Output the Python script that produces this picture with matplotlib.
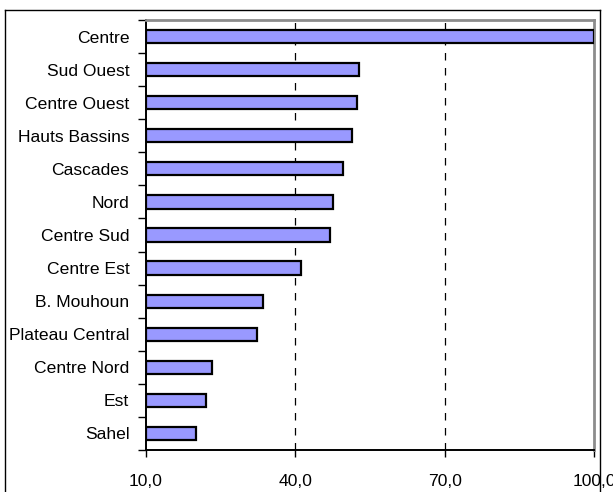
import matplotlib
matplotlib.use("Agg")
import matplotlib.pyplot as plt
from matplotlib.lines import Line2D
import numpy as np

regions = ["Centre", "Sud Ouest", "Centre Ouest", "Hauts Bassins", "Cascades",
           "Nord", "Centre Sud", "Centre Est", "B. Mouhoun", "Plateau Central",
           "Centre Nord", "Est", "Sahel"]
values = [100.0, 52.7, 52.3, 51.3, 49.5, 47.5, 46.9, 41.2, 33.6, 32.2, 23.2, 22.0, 20.0]
x_ticks = [10, 40, 70, 100]
x_tick_labels = ["10,0", "40,0", "70,0", "100,0"]
x_min, x_max = 10, 100

plt.rcParams["font.family"] = ["Liberation Sans", "DejaVu Sans"]

W, H = 613, 492
fig = plt.figure(figsize=(W / 100, H / 100), dpi=100)
ax = fig.add_axes([146 / W, (H - 450) / H, 448 / W, 430 / H])

y = np.arange(len(regions))
ax.barh(y, np.array(values) - x_min, left=x_min, height=0.4,
        color="#9999FF", edgecolor="black", linewidth=1.6, zorder=3)

ax.set_xlim(x_min, x_max)
ax.set_ylim(len(regions) - 0.5, -0.5)

# dashed vertical gridlines
for gx in x_ticks[1:-1]:
    ax.axvline(gx, color="black", linewidth=0.9, linestyle=(0, (6, 6)), zorder=1)

ax.set_xticks(x_ticks)
ax.set_xticklabels(x_tick_labels, fontsize=12.6)
ax.tick_params(axis="x", direction="out", length=5, width=1, pad=12)

ax.set_yticks(y)
ax.set_yticklabels(regions, fontsize=12.6)
ax.tick_params(axis="y", which="major", length=0, pad=12)
ax.set_yticks(np.arange(len(regions) + 1) - 0.5, minor=True)
ax.tick_params(axis="y", which="minor", direction="out", length=6, width=1)

for s in ("left", "bottom"):
    ax.spines[s].set_color("black")
    ax.spines[s].set_linewidth(1.4)
for s in ("top", "right"):
    ax.spines[s].set_color("#8c8c8c")
    ax.spines[s].set_linewidth(2)

# outer frame around the chart area
lx, rx, ty = 5.5 / W, 600 / W, (H - 9.5) / H
for xs, ys in [([lx, lx], [0, ty]), ([lx, rx], [ty, ty]), ([rx, rx], [0, ty])]:
    fig.add_artist(Line2D(xs, ys, color="black", linewidth=1.0, transform=fig.transFigure))

fig.savefig("out.png", dpi=100)
